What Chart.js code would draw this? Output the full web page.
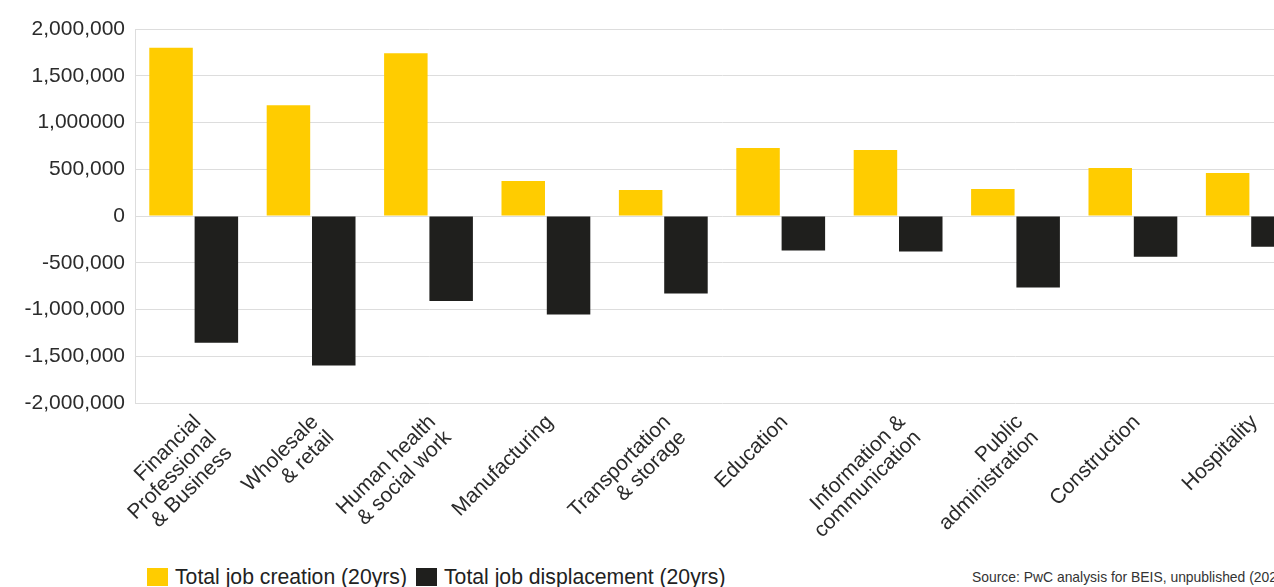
<!DOCTYPE html>
<html>
<head>
<meta charset="utf-8">
<script src="https://cdn.jsdelivr.net/npm/chart.js@4/dist/chart.umd.min.js"></script>
<style>
  html, body { margin: 0; padding: 0; background: #fff; overflow: hidden; width: 1274px; height: 587px; }
  .grafico { position: absolute; left: 0; top: 0; width: 1310px; height: 550px; }
  .leyenda { position: absolute; left: 147px; top: 565px; font: 21.2px "Liberation Sans", Arial, sans-serif; color: #222; white-space: nowrap; display: flex; align-items: center; }
  .caja { display: inline-block; width: 21px; height: 18px; margin-right: 7px; }
  .fuente { position: absolute; left: 972px; top: 569px; font: 13.9px "Liberation Sans", Arial, sans-serif; color: #333; white-space: nowrap; }
</style>
</head>
<body>
<div class="grafico"><canvas id="myChart" width="1310" height="550"></canvas></div>
<div class="leyenda">
  <span class="caja" style="background:#FFCC00"></span><span>Total job creation (20yrs)</span>
  <span class="caja" style="background:#1F1F1D; margin-left:9px"></span><span>Total job displacement (20yrs)</span>
</div>
<div class="fuente">Source: PwC analysis for BEIS, unpublished (2021)</div>
<script>
const sectores = [
  ["Financial", "Professional", "& Business"],
  ["Wholesale", "& retail"],
  ["Human health", "& social work"],
  ["Manufacturing"],
  ["Transportation", "& storage"],
  ["Education"],
  ["Information &", "communication"],
  ["Public", "administration"],
  ["Construction"],
  ["Hospitality"]
]
const creacion = [1800000, 1185000, 1740000, 375000, 278000, 726000, 705000, 288000, 513000, 459000]
const desplazamiento = [-1355000, -1600000, -908000, -1054000, -830000, -370000, -381000, -766000, -435000, -328000]
const valoresEje = [-2000000, -1500000, -1000000, -500000, 0, 500000, 1000000, 1500000, 2000000]
const textosEje = ["-2,000,000", "-1,500,000", "-1,000,000", "-500,000", "0", "500,000", "1,000000", "1,500,000", "2,000,000"]
const series = ["Total job creation (20yrs)", "Total job displacement (20yrs)"]

const fuente = { family: "'Liberation Sans', Arial, sans-serif", size: 21 }

const datasets = [
  { label: series[0], data: creacion, backgroundColor: "#FFCC00" },
  { label: series[1], data: desplazamiento, backgroundColor: "#1F1F1D" }
]

const config = {
  type: "bar",
  data: { labels: sectores, datasets },
  options: {
    responsive: false,
    animation: false,
    devicePixelRatio: 1,
    layout: { padding: { top: 29, right: 1, left: 0, bottom: 0 } },
    datasets: { bar: { categoryPercentage: 0.772, barPercentage: 0.96 } },
    plugins: { legend: { display: false }, tooltip: { enabled: false } },
    scales: {
      x: {
        grid: { display: false },
        border: { display: false },
        ticks: {
          autoSkip: false,
          minRotation: 45,
          maxRotation: 45,
          padding: 0,
          labelOffset: 4,
          color: "#2b2b2b",
          font: { ...fuente, lineHeight: 1.05 }
        },
        afterFit: (s) => { s.height = 550 - 403 }
      },
      y: {
        min: -2000000,
        max: 2000000,
        grid: { color: "#dddddd", drawTicks: false },
        border: { color: "#dddddd" },
        afterBuildTicks: (s) => { s.ticks = valoresEje.map((v) => ({ value: v })) },
        ticks: {
          padding: 10,
          color: "#2b2b2b",
          font: fuente,
          callback: (v) => textosEje[valoresEje.indexOf(v)]
        },
        afterFit: (s) => { s.width = 135 }
      }
    }
  }
}

new Chart(document.querySelector("#myChart"), config)
</script>
</body>
</html>
